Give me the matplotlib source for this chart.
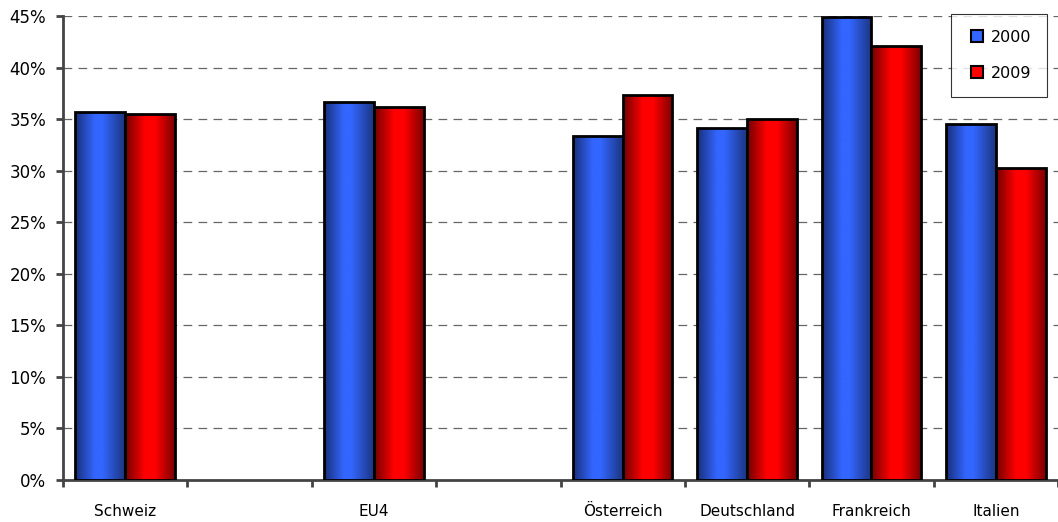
import numpy as np
import matplotlib
matplotlib.use("Agg")
from matplotlib import pyplot as plt
from matplotlib.colors import LinearSegmentedColormap
from matplotlib.lines import Line2D

# category slots (empty strings are gaps in the original chart)
categories = ["Schweiz", "", "EU4", "", "Österreich", "Deutschland", "Frankreich", "Italien"]
years = ["2000", "2009"]
values_2000 = [35.7, None, 36.7, None, 33.4, 34.1, 44.9, 34.5]
values_2009 = [35.5, None, 36.2, None, 37.3, 35.0, 42.1, 30.3]

plt.rcParams['font.family'] = ['Verdana', 'DejaVu Sans']

fig = plt.figure(figsize=(10.58, 5.22), dpi=100)
ax = fig.add_axes([63 / 1058, 1 - 480 / 522, 1 - 63 / 1058, 464 / 522])

bar_w = 0.4
x = np.arange(len(categories))

# horizontal gradients like the Excel bar fill
blue_cm = LinearSegmentedColormap.from_list("b", [(0, "#182f78"), (0.4, "#3366ff"), (0.55, "#3366ff"), (1, "#1c3580")])
red_cm = LinearSegmentedColormap.from_list("r", [(0, "#700000"), (0.4, "#ff0000"), (0.6, "#ff0000"), (1, "#7a0000")])
grad = np.linspace(0, 1, 256).reshape(1, -1)

for vals, offset, cmap in [(values_2000, -bar_w / 2, blue_cm),
                           (values_2009, bar_w / 2, red_cm)]:
    for xi, v in zip(x, vals):
        if v is None:
            continue
        b = ax.bar(xi + offset, v, width=bar_w, facecolor="none",
                   edgecolor="black", linewidth=2, zorder=4)[0]
        im = ax.imshow(grad, cmap=cmap, aspect="auto", zorder=3,
                       extent=[b.get_x(), b.get_x() + b.get_width(), 0, v])
        im.set_clip_path(b)

ax.set_xlim(-0.5, len(categories) - 0.5)
ax.set_ylim(0, 45)
ax.set_yticks(np.arange(0, 46, 5))
ax.set_yticklabels([f"{t}%" for t in range(0, 46, 5)], fontsize=12)
ax.yaxis.grid(True, linestyle=(0, (7, 5)), color="#666666", linewidth=0.9, zorder=0)
ax.set_axisbelow(True)

ax.set_xticks(x)
ax.set_xticklabels(categories, fontsize=11)
ax.tick_params(axis="x", which="major", length=0, pad=17)
ax.set_xticks(np.arange(-0.5, len(categories)), minor=True)
ax.tick_params(axis="x", which="minor", length=5, width=2, color="#444444")
ax.tick_params(axis="y", length=5, width=2, color="#444444", pad=7)

for s in ["top", "right"]:
    ax.spines[s].set_visible(False)
for s in ["left", "bottom"]:
    ax.spines[s].set_linewidth(2)
    ax.spines[s].set_color("#444444")

handles = [Line2D([], [], marker="s", linestyle="none", markersize=8,
                  markerfacecolor=c, markeredgecolor="black", markeredgewidth=1.5)
           for c in ["#3366ff", "#ff0000"]]
leg = ax.legend(handles, years, loc="upper right", bbox_to_anchor=(0.989, 1.0045),
                borderaxespad=0, fontsize=11.5, frameon=True, fancybox=False,
                edgecolor="black", handletextpad=0.2, labelspacing=1.3,
                borderpad=1.0, handlelength=1.3)
leg.get_frame().set_linewidth(0.8)

fig.savefig("out.png", dpi=100)
